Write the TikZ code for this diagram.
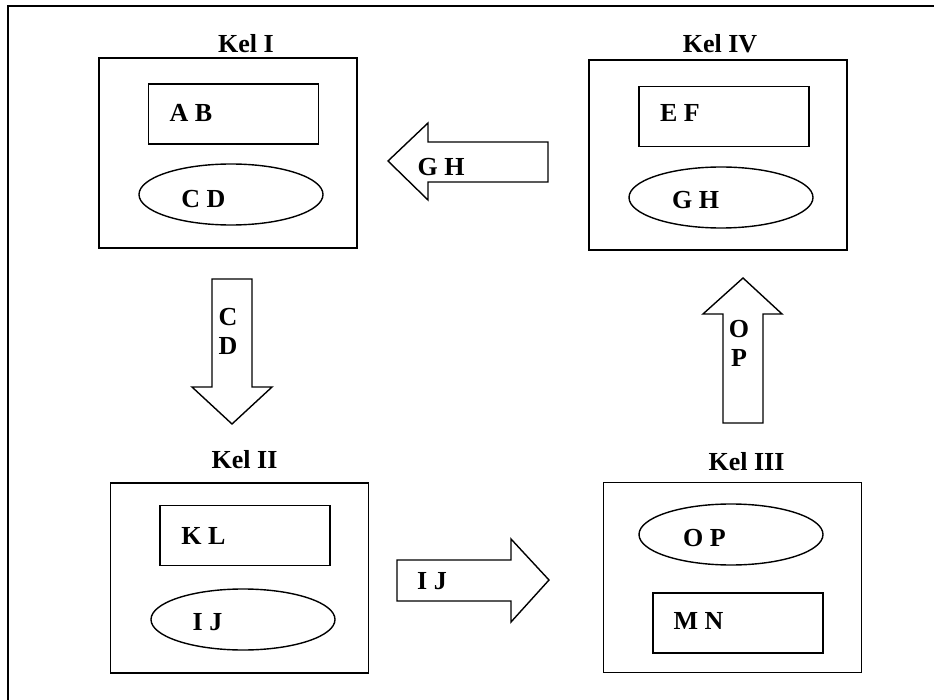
\documentclass[tikz,border=0pt]{standalone}
\usepackage{fontspec}
\setmainfont{Liberation Serif}
\usetikzlibrary{shapes.geometric}
\begin{document}
\begin{tikzpicture}[x=1pt,y=-1pt,line width=1.4pt,
  kel/.style={draw=black, fill=none, inner sep=0pt, minimum width=258pt, minimum height=190pt},
  isi/.style={draw=black, fill=none, inner sep=0pt, minimum width=170pt, minimum height=60pt},
  elip/.style={ellipse, draw=black, fill=none, inner sep=0pt, minimum width=184pt, minimum height=61pt},
  tulis/.style={inner sep=0pt, font=\fontsize{26}{29}\selectfont\bfseries, align=center},
  panah/.style={draw=black, fill=white, line join=miter}]
\useasboundingbox (0,0) rectangle (934,700);
\draw [line width=1.6pt] (8,700) -- (8,6) -- (934,6);
\node [tulis] (tkel1) at (246,43.5) {Kel I};
\node [kel] (kel1) at (228,153) {};
\node [isi] (ab) at (233.5,114) {};
\node [tulis] (tab) at (191,112.5) {A B};
\node [elip] (cd) at (231,194.5) {};
\node [tulis] (tcd) at (203.5,199.5) {C D};
\node [tulis] (tkel4) at (720,44) {Kel IV};
\node [kel] (kel4) at (718,155) {};
\node [isi] (ef) at (724,116.5) {};
\node [tulis] (tef) at (680,112.5) {E F};
\node [elip] (gh) at (721,197.5) {};
\node [tulis] (tgh) at (695.5,200) {G H};
\node [tulis] (tkel2) at (244.5,460) {Kel II};
\node [kel] (kel2) at (239.5,578) {};
\node [isi] (kl) at (245,535.5) {};
\node [tulis] (tkl) at (203.5,535.5) {K L};
\node [elip] (ij) at (243,619.5) {};
\node [tulis] (tij) at (207.5,622) {I J};
\node [tulis] (tkel3) at (746.5,462) {Kel III};
\node [kel] (kel3) at (732.5,577.5) {};
\node [elip] (op) at (731,534.5) {};
\node [tulis] (top) at (704.5,538.5) {O P};
\node [isi] (mn) at (738,623) {};
\node [tulis] (tmn) at (698.5,621) {M N};
\draw [panah] (388,161) -- (428,123) -- (428,142) -- (548,142) -- (548,182) -- (428,182) -- (428,200) -- cycle;
\node [tulis] (pgh) at (441,167) {G H};
\draw [panah] (212,279) -- (252,279) -- (252,387) -- (272,387) -- (232,424) -- (192,387) -- (212,387) -- cycle;
\node [tulis] (pcd) at (228,331) {C\\D};
\draw [panah] (723,423) -- (763,423) -- (763,314) -- (782,314) -- (743,278) -- (703,314) -- (723,314) -- cycle;
\node [tulis] (pop) at (739,343.5) {O\\P};
\draw [panah] (397,560) -- (511,560) -- (511,539) -- (549,580) -- (511,622) -- (511,601) -- (397,601) -- cycle;
\node [tulis] (pij) at (432,581.5) {I J};
\end{tikzpicture}
\end{document}
